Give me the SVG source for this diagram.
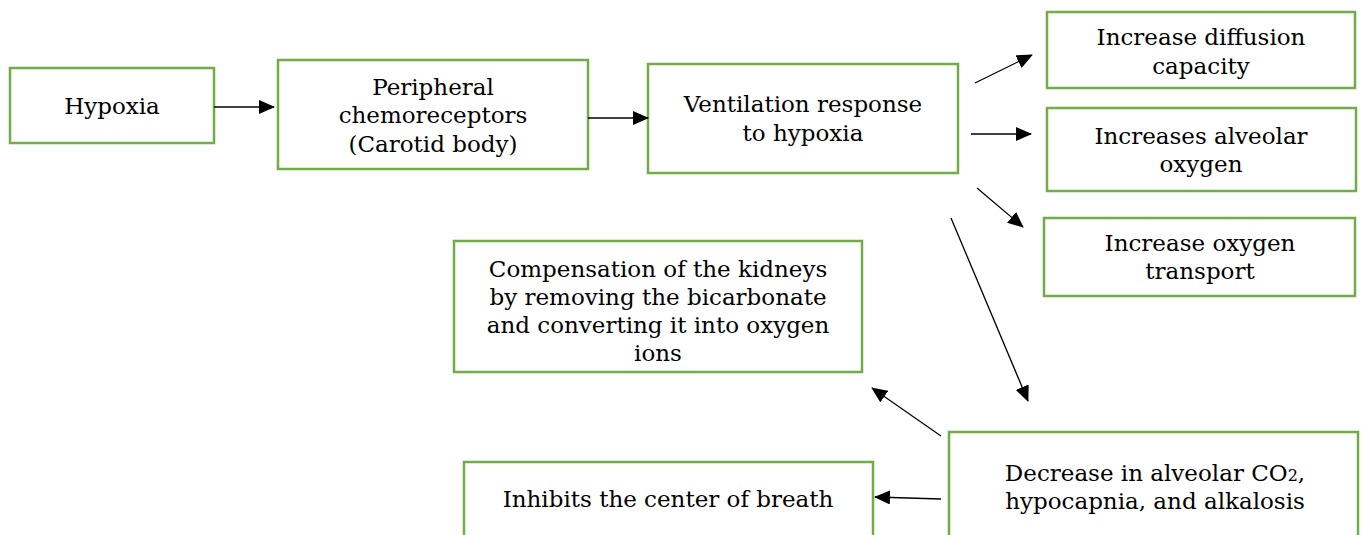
<svg xmlns="http://www.w3.org/2000/svg" width="1361" height="535" viewBox="0 0 1361 535">
<style>
.box{fill:#fff;stroke:#70AD47;stroke-width:2.5}
.t{font-family:"DejaVu Serif","Liberation Serif",serif;font-size:23px;fill:#000;text-anchor:middle}
.c{stroke:#000;stroke-width:1.3;fill:none;marker-end:url(#ah)}
</style>
<defs>
<marker id="ah" markerUnits="userSpaceOnUse" markerWidth="16" markerHeight="14" refX="15" refY="7" orient="auto">
<path d="M0,0 L16,7 L0,14 Z" fill="#000"/>
</marker>
</defs>
<rect width="1361" height="535" fill="#fff"/>
<g id="hypoxia"><rect class="box" x="10" y="68" width="204" height="75"/><text class="t" x="112" y="114">Hypoxia</text></g>
<g id="peripheral"><rect class="box" x="278" y="60" width="310" height="109"/>
<text class="t" x="433" y="95">Peripheral</text><text class="t" x="433" y="123">chemoreceptors</text><text class="t" x="433" y="152">(Carotid body)</text></g>
<g id="ventilation"><rect class="box" x="648" y="64" width="310" height="109"/>
<text class="t" x="803" y="112">Ventilation response</text><text class="t" x="803" y="141">to hypoxia</text></g>
<g id="diffusion"><rect class="box" x="1047" y="12" width="308" height="76"/>
<text class="t" x="1201" y="45">Increase diffusion</text><text class="t" x="1201" y="74">capacity</text></g>
<g id="alveolar"><rect class="box" x="1047" y="108" width="309" height="83"/>
<text class="t" x="1201" y="144">Increases alveolar</text><text class="t" x="1201" y="172">oxygen</text></g>
<g id="transport"><rect class="box" x="1044" y="218" width="311" height="78"/>
<text class="t" x="1200" y="251">Increase oxygen</text><text class="t" x="1200" y="279">transport</text></g>
<g id="compensation"><rect class="box" x="454" y="241" width="408" height="131"/>
<text class="t" x="658" y="277">Compensation of the kidneys</text><text class="t" x="658" y="305">by removing the bicarbonate</text><text class="t" x="658" y="333">and converting it into oxygen</text><text class="t" x="658" y="361">ions</text></g>
<g id="decrease"><rect class="box" x="949" y="432" width="409" height="120"/>
<text class="t" x="1155" y="481">Decrease in alveolar CO<tspan font-size="16">2</tspan>,</text><text class="t" x="1155" y="509">hypocapnia, and alkalosis</text></g>
<g id="inhibits"><rect class="box" x="464" y="462" width="409" height="90"/>
<text class="t" x="668" y="507">Inhibits the center of breath</text></g>
<g id="connectors">
<line class="c" x1="214" y1="107" x2="274" y2="107"/>
<line class="c" x1="588" y1="118" x2="648" y2="118"/>
<line class="c" x1="975" y1="83" x2="1032" y2="55"/>
<line class="c" x1="971" y1="134" x2="1031" y2="134"/>
<line class="c" x1="977" y1="188" x2="1023" y2="227"/>
<line class="c" x1="951" y1="218" x2="1028" y2="401"/>
<line class="c" x1="941" y1="436" x2="872" y2="388"/>
<line class="c" x1="941" y1="499" x2="875" y2="497"/>
</g>
</svg>
